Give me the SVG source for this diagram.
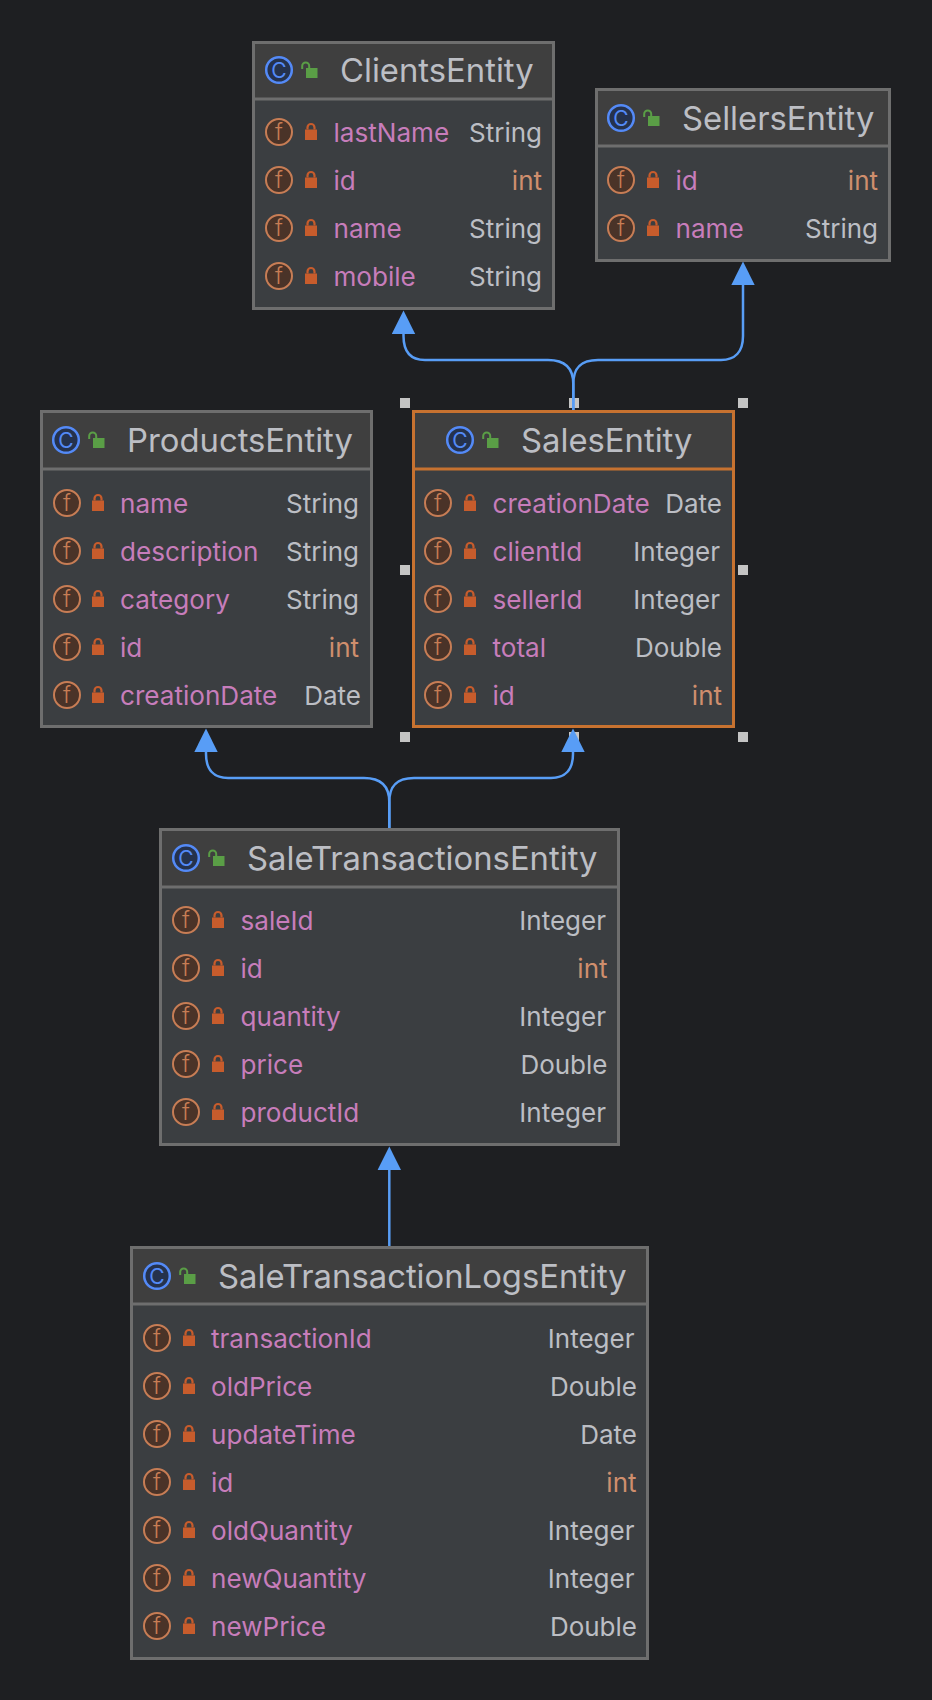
<svg xmlns="http://www.w3.org/2000/svg" width="932" height="1700" viewBox="0 0 932 1700">
<style>
text{font-family:Inter,"Noto Sans","Liberation Sans",sans-serif}
.box{fill:#3b3e41;stroke:#6e6e6e;stroke-width:3}
.sel{stroke:#c77230}
.head{fill:#3f3f3f}
.sep{stroke:#6e6e6e;stroke-width:3}
.sep.sel{stroke:#c77230}
.title{font-size:32.800px;fill:#bcbec4}
.fn{font-size:26.100px;fill:#c77dbb}
.ty{font-size:26px;fill:#bcbec4;text-anchor:end}
.int{fill:#cf8e6d}
.ci{fill:#25324d;stroke:#548af7;stroke-width:2.500}
.fi{fill:#4a3328;stroke:#c77d55;stroke-width:2}
.cg{font-size:21px;fill:#548af7;text-anchor:middle}
.fg{font-size:23px;font-weight:300;fill:#c77d55;text-anchor:middle}
.conn{fill:none;stroke:#589df6;stroke-width:2.500;marker-end:url(#tri)}
.h{fill:#c4c4c4}
</style>
<defs>
<marker id="tri" markerUnits="userSpaceOnUse" markerWidth="24" markerHeight="24" refX="0" refY="12" orient="auto" viewBox="0 0 24 24"><path d="M0 .3L23.500 12L0 23.700Z" fill="#589df6"/></marker>
<g id="lock"><rect x="-6" y="-2.500" width="12" height="10.500" fill="#c75c2c"/><path d="M-3.500-2.500V-4.500a3.500 3.500 0 0 1 7 0V-2.500" fill="none" stroke="#c75c2c" stroke-width="2.200"/></g>
<g id="open"><rect x="5" y="-2" width="11.500" height="10" fill="#5a9e46"/><path d="M1.200-1V-4a3.500 3.500 0 0 1 7 0V-2" fill="none" stroke="#5a9e46" stroke-width="2"/></g>
</defs>
<rect width="932" height="1700" fill="#1e1f22"/>
<g id="handles">
<rect class="h" x="400" y="398" width="10" height="10"/><rect class="h" x="569" y="398" width="10" height="10"/><rect class="h" x="738" y="398" width="10" height="10"/>
<rect class="h" x="400" y="565" width="10" height="10"/><rect class="h" x="738" y="565" width="10" height="10"/>
<rect class="h" x="400" y="732" width="10" height="10"/><rect class="h" x="569" y="732" width="10" height="10"/><rect class="h" x="738" y="732" width="10" height="10"/>
</g>
<g id="connectors">
<path class="conn" d="M573.300 410V384C573.300 370 567 360 548 360H425C411 360 403.500 352 403.500 336V334"/>
<path class="conn" d="M573.300 410V384C573.300 370 579 360 598 360H721C735 360 743 352 743 336V285"/>
<path class="conn" d="M389.300 828V802C389.300 788 383 778 364 778H228C214 778 206 770 206 754V752"/>
<path class="conn" d="M389.300 828V802C389.300 788 395 778 414 778H551C565 778 573 770 573 754V752"/>
<path class="conn" d="M389.300 1246V1170"/>
</g>
<g id="ClientsEntity">
<rect class="box" x="253.500" y="42.500" width="300" height="266"/><rect class="head" x="255" y="44" width="297" height="54"/><path class="sep" d="M255 99H552"/>
<circle class="ci" cx="279" cy="70" r="12.800"/><text class="cg" x="279" y="77.500">C</text><use href="#open" x="301" y="70"/><text class="title" x="340" y="81.500">ClientsEntity</text>
<circle class="fi" cx="279" cy="132" r="13"/><text class="fg" x="279" y="140">f</text><use href="#lock" x="311" y="132"/><text class="fn" x="333.500" y="141.500">lastName</text><text class="ty" x="542" y="141.500">String</text>
<circle class="fi" cx="279" cy="180" r="13"/><text class="fg" x="279" y="188">f</text><use href="#lock" x="311" y="180"/><text class="fn" x="333.500" y="189.500">id</text><text class="ty int" x="542" y="189.500">int</text>
<circle class="fi" cx="279" cy="228" r="13"/><text class="fg" x="279" y="236">f</text><use href="#lock" x="311" y="228"/><text class="fn" x="333.500" y="237.500">name</text><text class="ty" x="542" y="237.500">String</text>
<circle class="fi" cx="279" cy="276" r="13"/><text class="fg" x="279" y="284">f</text><use href="#lock" x="311" y="276"/><text class="fn" x="333.500" y="285.500">mobile</text><text class="ty" x="542" y="285.500">String</text>
</g>
<g id="SellersEntity">
<rect class="box" x="596.500" y="89.500" width="293" height="171"/><rect class="head" x="598" y="91" width="290" height="54"/><path class="sep" d="M598 146H888"/>
<circle class="ci" cx="621" cy="118" r="12.800"/><text class="cg" x="621" y="125.500">C</text><use href="#open" x="643" y="118"/><text class="title" x="682" y="129.500">SellersEntity</text>
<circle class="fi" cx="621" cy="180" r="13"/><text class="fg" x="621" y="188">f</text><use href="#lock" x="653" y="180"/><text class="fn" x="675.500" y="189.500">id</text><text class="ty int" x="878" y="189.500">int</text>
<circle class="fi" cx="621" cy="228" r="13"/><text class="fg" x="621" y="236">f</text><use href="#lock" x="653" y="228"/><text class="fn" x="675.500" y="237.500">name</text><text class="ty" x="878" y="237.500">String</text>
</g>
<g id="ProductsEntity">
<rect class="box" x="41.500" y="411.500" width="330" height="315"/><rect class="head" x="43" y="413" width="327" height="55"/><path class="sep" d="M43 469H370"/>
<circle class="ci" cx="66" cy="440" r="12.800"/><text class="cg" x="66" y="447.500">C</text><use href="#open" x="88" y="440"/><text class="title" x="127" y="451.500">ProductsEntity</text>
<circle class="fi" cx="67" cy="503" r="13"/><text class="fg" x="67" y="511">f</text><use href="#lock" x="98" y="503"/><text class="fn" x="120" y="512.500">name</text><text class="ty" x="359" y="512.500">String</text>
<circle class="fi" cx="67" cy="551" r="13"/><text class="fg" x="67" y="559">f</text><use href="#lock" x="98" y="551"/><text class="fn" x="120" y="560.500">description</text><text class="ty" x="359" y="560.500">String</text>
<circle class="fi" cx="67" cy="599" r="13"/><text class="fg" x="67" y="607">f</text><use href="#lock" x="98" y="599"/><text class="fn" x="120" y="608.500">category</text><text class="ty" x="359" y="608.500">String</text>
<circle class="fi" cx="67" cy="647" r="13"/><text class="fg" x="67" y="655">f</text><use href="#lock" x="98" y="647"/><text class="fn" x="120" y="656.500">id</text><text class="ty int" x="359" y="656.500">int</text>
<circle class="fi" cx="67" cy="695" r="13"/><text class="fg" x="67" y="703">f</text><use href="#lock" x="98" y="695"/><text class="fn" x="120" y="704.500">creationDate</text><text class="ty" x="361" y="704.500">Date</text>
</g>
<g id="SalesEntity">
<rect class="box sel" x="413.500" y="411.500" width="320" height="315"/><rect class="head" x="415" y="413" width="317" height="55"/><path class="sep sel" d="M415 469H732"/>
<circle class="ci" cx="460" cy="440" r="12.800"/><text class="cg" x="460" y="447.500">C</text><use href="#open" x="482" y="440"/><text class="title" x="521" y="451.500">SalesEntity</text>
<circle class="fi" cx="438" cy="503" r="13"/><text class="fg" x="438" y="511">f</text><use href="#lock" x="470" y="503"/><text class="fn" x="492.500" y="512.500">creationDate</text><text class="ty" x="722" y="512.500">Date</text>
<circle class="fi" cx="438" cy="551" r="13"/><text class="fg" x="438" y="559">f</text><use href="#lock" x="470" y="551"/><text class="fn" x="492.500" y="560.500">clientId</text><text class="ty" x="720" y="560.500">Integer</text>
<circle class="fi" cx="438" cy="599" r="13"/><text class="fg" x="438" y="607">f</text><use href="#lock" x="470" y="599"/><text class="fn" x="492.500" y="608.500">sellerId</text><text class="ty" x="720" y="608.500">Integer</text>
<circle class="fi" cx="438" cy="647" r="13"/><text class="fg" x="438" y="655">f</text><use href="#lock" x="470" y="647"/><text class="fn" x="492.500" y="656.500">total</text><text class="ty" x="722" y="656.500">Double</text>
<circle class="fi" cx="438" cy="695" r="13"/><text class="fg" x="438" y="703">f</text><use href="#lock" x="470" y="695"/><text class="fn" x="492.500" y="704.500">id</text><text class="ty int" x="722" y="704.500">int</text>
</g>
<g id="SaleTransactionsEntity">
<rect class="box" x="160.500" y="829.500" width="458" height="315"/><rect class="head" x="162" y="831" width="455" height="55"/><path class="sep" d="M162 887H617"/>
<circle class="ci" cx="186" cy="858" r="12.800"/><text class="cg" x="186" y="865.500">C</text><use href="#open" x="208" y="858"/><text class="title" x="247" y="869.500">SaleTransactionsEntity</text>
<circle class="fi" cx="186" cy="920" r="13"/><text class="fg" x="186" y="928">f</text><use href="#lock" x="218" y="920"/><text class="fn" x="240.500" y="929.500">saleId</text><text class="ty" x="606" y="929.500">Integer</text>
<circle class="fi" cx="186" cy="968" r="13"/><text class="fg" x="186" y="976">f</text><use href="#lock" x="218" y="968"/><text class="fn" x="240.500" y="977.500">id</text><text class="ty int" x="607.500" y="977.500">int</text>
<circle class="fi" cx="186" cy="1016" r="13"/><text class="fg" x="186" y="1024">f</text><use href="#lock" x="218" y="1016"/><text class="fn" x="240.500" y="1025.500">quantity</text><text class="ty" x="606" y="1025.500">Integer</text>
<circle class="fi" cx="186" cy="1064" r="13"/><text class="fg" x="186" y="1072">f</text><use href="#lock" x="218" y="1064"/><text class="fn" x="240.500" y="1073.500">price</text><text class="ty" x="607.500" y="1073.500">Double</text>
<circle class="fi" cx="186" cy="1112" r="13"/><text class="fg" x="186" y="1120">f</text><use href="#lock" x="218" y="1112"/><text class="fn" x="240.500" y="1121.500">productId</text><text class="ty" x="606" y="1121.500">Integer</text>
</g>
<g id="SaleTransactionLogsEntity">
<rect class="box" x="131.500" y="1247.500" width="516" height="411"/><rect class="head" x="133" y="1249" width="513" height="54"/><path class="sep" d="M133 1304H646"/>
<circle class="ci" cx="157" cy="1276" r="12.800"/><text class="cg" x="157" y="1283.500">C</text><use href="#open" x="179" y="1276"/><text class="title" x="218" y="1287.500">SaleTransactionLogsEntity</text>
<circle class="fi" cx="157" cy="1338" r="13"/><text class="fg" x="157" y="1346">f</text><use href="#lock" x="189" y="1338"/><text class="fn" x="211" y="1347.500">transactionId</text><text class="ty" x="634.500" y="1347.500">Integer</text>
<circle class="fi" cx="157" cy="1386" r="13"/><text class="fg" x="157" y="1394">f</text><use href="#lock" x="189" y="1386"/><text class="fn" x="211" y="1395.500">oldPrice</text><text class="ty" x="637" y="1395.500">Double</text>
<circle class="fi" cx="157" cy="1434" r="13"/><text class="fg" x="157" y="1442">f</text><use href="#lock" x="189" y="1434"/><text class="fn" x="211" y="1443.500">updateTime</text><text class="ty" x="637" y="1443.500">Date</text>
<circle class="fi" cx="157" cy="1482" r="13"/><text class="fg" x="157" y="1490">f</text><use href="#lock" x="189" y="1482"/><text class="fn" x="211" y="1491.500">id</text><text class="ty int" x="636.500" y="1491.500">int</text>
<circle class="fi" cx="157" cy="1530" r="13"/><text class="fg" x="157" y="1538">f</text><use href="#lock" x="189" y="1530"/><text class="fn" x="211" y="1539.500">oldQuantity</text><text class="ty" x="634.500" y="1539.500">Integer</text>
<circle class="fi" cx="157" cy="1578" r="13"/><text class="fg" x="157" y="1586">f</text><use href="#lock" x="189" y="1578"/><text class="fn" x="211" y="1587.500">newQuantity</text><text class="ty" x="634.500" y="1587.500">Integer</text>
<circle class="fi" cx="157" cy="1626" r="13"/><text class="fg" x="157" y="1634">f</text><use href="#lock" x="189" y="1626"/><text class="fn" x="211" y="1635.500">newPrice</text><text class="ty" x="637" y="1635.500">Double</text>
</g>
</svg>
